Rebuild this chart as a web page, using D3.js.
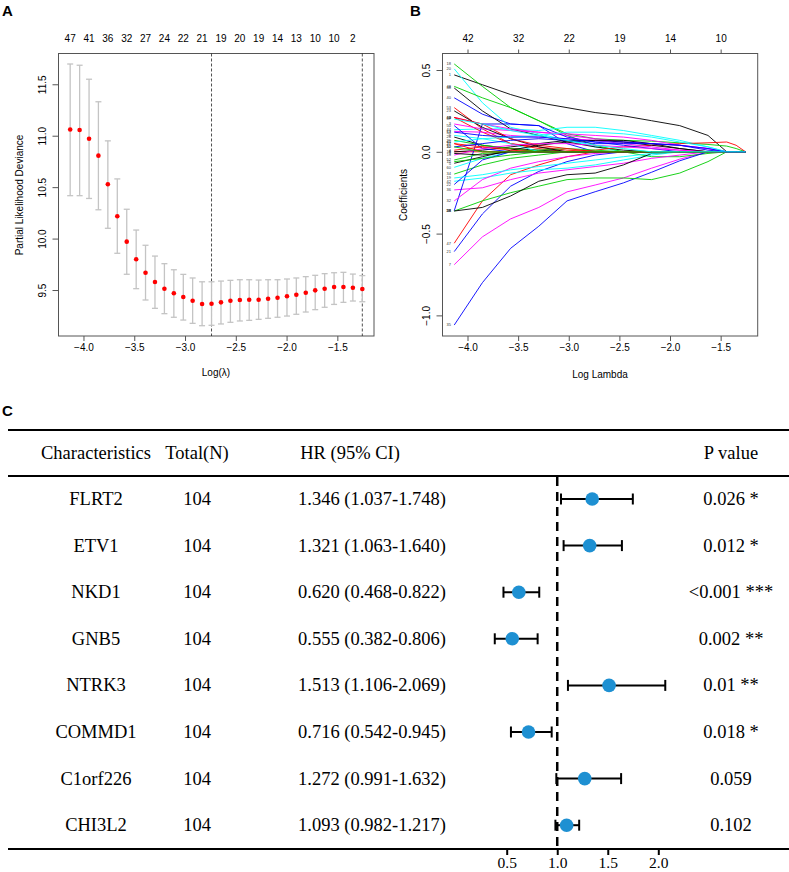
<!DOCTYPE html>
<html><head><meta charset="utf-8">
<script src="https://cdn.jsdelivr.net/npm/d3@7"></script>
<style>body{margin:0;background:#fff}svg{display:block}</style>
</head><body>
<svg id="fig" width="789" height="872"></svg>
<script>
// ---------------- DATA ----------------
// Panel A: cross-validation curve
const logLambda = [-4.131,-4.038,-3.945,-3.853,-3.760,-3.667,-3.574,-3.481,-3.389,-3.296,-3.203,-3.110,-3.017,-2.925,-2.832,-2.739,-2.646,-2.553,-2.460,-2.368,-2.275,-2.182,-2.089,-1.996,-1.904,-1.811,-1.718,-1.625,-1.532,-1.440,-1.347,-1.254];
const cvMean  = [11.06,11.055,10.97,10.806,10.528,10.217,9.97,9.799,9.668,9.578,9.513,9.468,9.432,9.396,9.364,9.367,9.38,9.396,9.403,9.406,9.406,9.415,9.425,9.439,9.454,9.474,9.497,9.513,9.529,9.529,9.522,9.51];
const cvUpper = [11.697,11.685,11.549,11.33,10.95,10.58,10.285,10.083,9.935,9.83,9.756,9.697,9.652,9.617,9.58,9.58,9.587,9.594,9.6,9.6,9.597,9.6,9.6,9.607,9.617,9.63,9.643,9.659,9.668,9.672,9.655,9.64];
const cvLower = [10.417,10.417,10.39,10.28,10.10,9.857,9.653,9.513,9.403,9.322,9.27,9.235,9.208,9.176,9.153,9.157,9.17,9.186,9.199,9.205,9.215,9.225,9.235,9.247,9.264,9.286,9.309,9.332,9.36,9.38,9.393,9.386];
const nonzeroA = [47,41,36,32,27,24,22,21,19,20,19,14,13,10,10,2]; // shown at every 2nd lambda
const lambdaMinLog = -2.739, lambda1seLog = -1.254;
const ticksA_y = [9.5,10.0,10.5,11.0,11.5];
const ticksX = [-4.0,-3.5,-3.0,-2.5,-2.0,-1.5];

// Panel B: coefficient paths (values at the knots below)
const coefKnots = [-4.131,-3.853,-3.574,-3.296,-3.017,-2.739,-2.460,-2.182,-1.904,-1.625,-1.440,-1.347,-1.254];
const coefLabels = ["1","53","18","40","20","7","38","47","48","35","44","46","26","16","34","21","42","36","8","10","38","58","60","32","28","4","52","22","9","13","23","2","29","50","19","3","5","11","15","12","45","14","6","27","30","54","57"];
const coefValues = [
 [0.47,0.41,0.35,0.30,0.27,0.24,0.22,0.19,0.16,0.10,0,0,0],
 [0.27,0.14,0.05,0.02,0,0,0,0,0,0,0,0,0],
 [0.537,0.40,0.27,0.19,0.11,0.08,0.07,0.065,0.055,0.045,0.035,0.02,0],
 [0.33,0.23,0.17,0.16,0.05,0,0,0,0,0,0,0,0],
 [0.507,0.30,0.15,0.11,0.07,0.03,0,0,0,0,0,0,0],
 [-0.69,-0.52,-0.41,-0.34,-0.245,-0.203,-0.16,-0.10,-0.045,0,0,0,0],
 [0.39,0.25,0.14,0.10,0.06,0.03,0.01,0,0,0,0,0,0],
 [-0.559,-0.30,-0.14,-0.08,-0.03,0,0,0,0,0,0,0,0],
 [0.40,0.33,0.27,0.19,0.10,0.04,0.0,-0.03,-0.03,-0.01,0,0,0],
 [-1.059,-0.80,-0.59,-0.455,-0.30,-0.244,-0.19,-0.125,-0.055,0,0,0,0],
 [0.135,0.14,0.14,0.13,0.15,0.15,0.13,0.10,0.07,0.03,0,0,0],
 [0.21,0.17,0.14,0.12,0.10,0.08,0.06,0.05,0.04,0.02,0,0,0],
 [0.09,0.04,0.02,0.01,0,0,0,0,0,0,0,0,0],
 [0.0,0.0,0.0,0.0,0.0,0.01,0.03,0.04,0.05,0.055,0.06,0.04,0],
 [-0.136,-0.08,-0.04,-0.02,0,0,0,0,0,0,0,0,0],
 [-0.61,-0.38,-0.21,-0.12,-0.06,-0.02,0,0,0,0,0,0,0],
 [-0.18,-0.16,-0.13,-0.11,-0.10,-0.08,-0.05,-0.02,0,0,0,0,0],
 [-0.233,-0.22,-0.17,-0.13,-0.11,-0.09,-0.07,-0.04,-0.02,0,0,0,0],
 [0.0,0.01,0.03,0.05,0.07,0.07,0.06,0.04,0.02,0,0,0,0],
 [0.21,0.12,0.05,0.03,0.01,0,0,0,0,0,0,0,0],
 [-0.362,-0.30,-0.25,-0.21,-0.17,-0.16,-0.16,-0.17,-0.13,-0.06,0,0,0],
 [-0.36,0.17,0.17,0.16,0.09,0.06,0.04,0.02,0,0,0,0,0],
 [-0.095,-0.04,0.0,0,0,0,0,0,0,0,0,0,0],
 [-0.30,-0.17,-0.10,-0.06,-0.03,-0.01,0,0,0,0,0,0,0],
 [-0.362,-0.34,-0.27,-0.18,-0.14,-0.13,-0.08,-0.01,0,0,0,0,0],
 [0.01,0.03,0.02,0.0,0,0,0,0,0,0,0,0,0],
 [-0.05,-0.01,0.0,0.01,0.02,0.01,0,0,0,0,0,0,0],
 [-0.20,-0.05,0.0,0,0,0,0,0,0,0,0,0,0],
 [0.10,0.08,0.05,0.0,0,0,0,0,0,0,0,0,0],
 [0.125,0.12,0.10,0.09,0.08,0.07,0.05,0.03,0.01,0,0,0,0],
 [0.25,0.15,0.08,0.03,0,0,0,0,0,0,0,0,0],
 [0.21,0.17,0.08,0.04,0.02,0,0,0,0,0,0,0,0],
 [0.07,0.04,0.02,0,0,0,0,0,0,0,0,0,0],
 [0.16,0.02,0.0,0,0,0,0,0,0,0,0,0,0],
 [-0.16,-0.14,-0.11,-0.09,-0.07,-0.05,-0.03,-0.01,0,0,0,0,0],
 [0.17,0.14,0.13,0.12,0.11,0.10,0.09,0.07,0.04,0.02,0,0,0],
 [-0.07,-0.03,0.01,0.04,0.06,0.07,0.07,0.05,0.02,0,0,0,0],
 [0.05,0.03,0.01,0,0,0,0,0,0,0,0,0,0],
 [-0.06,-0.04,-0.02,0,0,0,0,0,0,0,0,0,0],
 [0.03,0.05,0.07,0.08,0.07,0.05,0.05,0.05,0.04,0.02,0,0,0],
 [0.06,0.08,0.09,0.10,0.12,0.12,0.11,0.09,0.06,0.03,0,0,0],
 [-0.02,0.02,0.04,0.05,0.05,0.04,0.03,0.02,0.01,0,0,0,0],
 [-0.01,-0.02,0.0,0,0,0,0,0,0,0,0,0,0],
 [0.05,0.0,0,0,0,0,0,0,0,0,0,0,0],
 [0.03,0.0,0,0,0,0,0,0,0,0,0,0,0],
 [0.12,0.10,0.09,0.09,0.08,0.06,0.06,0.05,0.04,0.01,0,0,0],
 [0.20,0.17,0.13,0.10,0.07,0.04,0.02,0,0,0,0,0,0]
];
const ticksB_y = [-1.0,-0.5,0.0,0.5];
const topLabelsB = [42,32,22,19,14,10];

// Panel C: forest plot
const genes  = ["FLRT2","ETV1","NKD1","GNB5","NTRK3","COMMD1","C1orf226","CHI3L2"];
const totalN = [104,104,104,104,104,104,104,104];
const hr     = [1.346,1.321,0.620,0.555,1.513,0.716,1.272,1.093];
const hrLow  = [1.037,1.063,0.468,0.382,1.106,0.542,0.991,0.982];
const hrHigh = [1.748,1.640,0.822,0.806,2.069,0.945,1.632,1.217];
const pText  = ["0.026 *","0.012 *","<0.001 ***","0.002 **","0.01 **","0.018 *","0.059","0.102"];
const headers = ["Characteristics","Total(N)","HR (95% CI)","P value"];
const ticksF = [0.5,1.0,1.5,2.0];

// ---------------- DRAWING ----------------
const svg = d3.select("#fig");
const sans = "Liberation Sans, Arial, Helvetica, sans-serif";
const serif = "Liberation Serif, Times New Roman, serif";
const axCol = "#555";

function panelLetter(t,x,y){
  svg.append("text").attr("x",x).attr("y",y).text(t)
    .attr("font-family",sans).attr("font-weight","bold").attr("font-size",15).attr("fill","#000");
}
panelLetter("A",2,16); panelLetter("B",410,16); panelLetter("C",2,416);

function styleAxis(g, rotateY){
  g.select(".domain").remove();
  g.selectAll(".tick line").attr("stroke",axCol);
  g.selectAll(".tick text").attr("font-family",sans).attr("font-size",10).attr("fill","#000");
  if(rotateY){
    g.selectAll(".tick text").attr("x",null).attr("dy",null).attr("text-anchor","middle")
      .attr("dominant-baseline","central").attr("transform","translate(-16.5,0) rotate(-90)");
  }
  return g;
}

// ---- Panel A ----
const xA = d3.scaleLinear().domain([-4.246,-1.139]).range([58.5,374]);
const yA = d3.scaleLinear().domain([9.053,11.804]).range([336,53]);
const gA = svg.append("g");
gA.append("rect").attr("x",58.5).attr("y",53.5).attr("width",374-58.5).attr("height",336-53.5)
  .attr("fill","none").attr("stroke",axCol).attr("stroke-width",1);
[lambdaMinLog,lambda1seLog].forEach(v=>{
  gA.append("line").attr("x1",xA(v)).attr("x2",xA(v)).attr("y1",53.5).attr("y2",336)
    .attr("stroke","#222").attr("stroke-width",0.8).attr("stroke-dasharray","3,2");
});
const eb = gA.append("g").attr("stroke","#c4c4c4").attr("stroke-width",1.3);
logLambda.forEach((L,i)=>{
  const x = xA(L);
  eb.append("line").attr("x1",x).attr("x2",x).attr("y1",yA(cvUpper[i])).attr("y2",yA(cvLower[i]));
  eb.append("line").attr("x1",x-3).attr("x2",x+3).attr("y1",yA(cvUpper[i])).attr("y2",yA(cvUpper[i]));
  eb.append("line").attr("x1",x-3).attr("x2",x+3).attr("y1",yA(cvLower[i])).attr("y2",yA(cvLower[i]));
});
gA.selectAll("circle.pt").data(cvMean).enter().append("circle").attr("class","pt")
  .attr("cx",(d,i)=>xA(logLambda[i])).attr("cy",d=>yA(d)).attr("r",2.3).attr("fill","#ff0000");
styleAxis(gA.append("g").attr("transform","translate(0,336)")
  .call(d3.axisBottom(xA).tickValues(ticksX).tickFormat(d3.format(".1f")).tickSize(5).tickSizeOuter(0)), false);
styleAxis(gA.append("g").attr("transform","translate(58.5,0)")
  .call(d3.axisLeft(yA).tickValues(ticksA_y).tickFormat(d3.format(".1f")).tickSize(6).tickSizeOuter(0)), true);
nonzeroA.forEach((n,k)=>{
  gA.append("text").attr("x",xA(logLambda[2*k])).attr("y",41.5).attr("text-anchor","middle")
    .attr("font-family",sans).attr("font-size",10).text(n);
});
gA.append("text").attr("x",216).attr("y",376).attr("text-anchor","middle")
  .attr("font-family",sans).attr("font-size",10).text("Log(λ)");
gA.append("text").attr("transform","translate(23,195) rotate(-90)").attr("text-anchor","middle")
  .attr("font-family",sans).attr("font-size",10).text("Partial Likelihood Deviance");

// ---- Panel B ----
const xB = d3.scaleLinear().domain([-4.247,-1.134]).range([442.5,757.7]);
const yB = d3.scaleLinear().domain([-1.126,0.604]).range([336,53]);
const gB = svg.append("g");
gB.append("rect").attr("x",442.5).attr("y",53.5).attr("width",757.7-442.5).attr("height",336-53.5)
  .attr("fill","none").attr("stroke",axCol).attr("stroke-width",1);
const palette = ["#000000","#ff0000","#00cd00","#0000ff","#00ffff","#ff00ff"];
const lineB = d3.line().x((d,j)=>xB(coefKnots[j])).y(d=>yB(d));
coefValues.forEach((vals,i)=>{
  gB.append("path").attr("d",lineB(vals)).attr("fill","none")
    .attr("stroke",palette[i%6]).attr("stroke-width",0.9);
});
coefValues.forEach((vals,i)=>{
  gB.append("text").attr("x",451).attr("y",yB(vals[0])+1.4).attr("text-anchor","end")
    .attr("font-family",sans).attr("font-size",4).attr("fill","#333").text(coefLabels[i]);
});
styleAxis(gB.append("g").attr("transform","translate(0,336)")
  .call(d3.axisBottom(xB).tickValues(ticksX).tickFormat(d3.format(".1f")).tickSize(5).tickSizeOuter(0)), false);
styleAxis(gB.append("g").attr("transform","translate(442.5,0)")
  .call(d3.axisLeft(yB).tickValues(ticksB_y).tickFormat(d3.format(".1f")).tickSize(6).tickSizeOuter(0)), true);
styleAxis(gB.append("g").attr("transform","translate(0,53.5)")
  .call(d3.axisTop(xB).tickValues(ticksX).tickFormat((d,i)=>topLabelsB[i]).tickSize(4).tickSizeOuter(0)), false)
  .selectAll(".tick text").attr("y",-12);
gB.append("text").attr("x",600).attr("y",378).attr("text-anchor","middle")
  .attr("font-family",sans).attr("font-size",10).text("Log Lambda");
gB.append("text").attr("transform","translate(406.5,195) rotate(-90)").attr("text-anchor","middle")
  .attr("font-family",sans).attr("font-size",10).text("Coefficients");

// ---- Panel C ----
const gC = svg.append("g");
const fs = 18.5;
const xF = d3.scaleLinear().domain([0.5,2.0]).range([506.7,658.3]);
const rowY = d3.scaleLinear().domain([0,7]).range([499,825.2]);
const colX = [96,197,372,731];
[430,476,849].forEach(y=>gC.append("line").attr("x1",8).attr("x2",789).attr("y1",y).attr("y2",y)
  .attr("stroke","#000").attr("stroke-width",2));
headers.forEach((h,k)=>gC.append("text").attr("x",k===2?350:colX[k]).attr("y",453).attr("text-anchor","middle")
  .attr("dominant-baseline","central").attr("font-family",serif).attr("font-size",fs).text(h));
gC.append("line").attr("x1",xF(1)).attr("x2",xF(1)).attr("y1",477).attr("y2",849)
  .attr("stroke","#000").attr("stroke-width",2.5).attr("stroke-dasharray","9,6");
genes.forEach((g,i)=>{
  const y=rowY(i);
  const txt=(s,x)=>gC.append("text").attr("x",x).attr("y",y).attr("text-anchor","middle")
    .attr("dominant-baseline","central").attr("font-family",serif).attr("font-size",fs).text(s);
  txt(g,colX[0]); txt(totalN[i],colX[1]);
  txt(`${hr[i].toFixed(3)} (${hrLow[i].toFixed(3)}-${hrHigh[i].toFixed(3)})`,colX[2]);
  txt(pText[i],colX[3]);
  gC.append("line").attr("x1",xF(hrLow[i])).attr("x2",xF(hrHigh[i])).attr("y1",y).attr("y2",y)
    .attr("stroke","#000").attr("stroke-width",2);
  [hrLow[i],hrHigh[i]].forEach(v=>gC.append("line").attr("x1",xF(v)).attr("x2",xF(v))
    .attr("y1",y-5.5).attr("y2",y+5.5).attr("stroke","#000").attr("stroke-width",2));
  gC.append("circle").attr("cx",xF(hr[i])).attr("cy",y).attr("r",6.8).attr("fill","#1e90d2");
});
const axF = gC.append("g").attr("transform","translate(0,849)")
  .call(d3.axisBottom(xF).tickValues(ticksF).tickFormat(d3.format(".1f")).tickSize(6).tickSizeOuter(0));
axF.select(".domain").remove();
axF.selectAll(".tick line").attr("stroke","#000").attr("stroke-width",2);
axF.selectAll(".tick text").attr("font-family",serif).attr("font-size",15.5).attr("fill","#000").attr("y",8);
</script>
</body></html>
